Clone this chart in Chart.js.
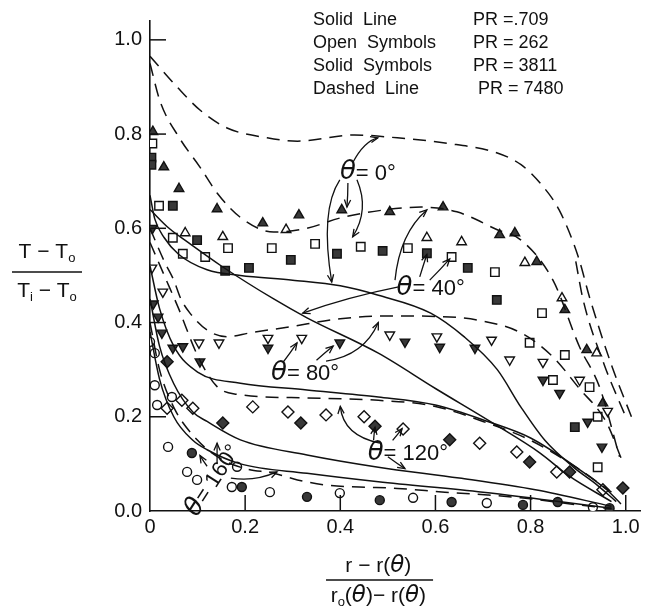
<!DOCTYPE html>
<html>
<head>
<meta charset="utf-8">
<script src="https://cdn.jsdelivr.net/npm/chart.js@4.4.0/dist/chart.umd.min.js"></script>
<style>
html, body { margin: 0; padding: 0; background: #fff; }
</style>
</head>
<body>
<canvas id="tempChart" width="656" height="609"></canvas>
<script>
// x = (r - r(θ)) / (ro(θ) - r(θ)),  y = (T - To) / (Ti - To)
const xTicks = [0, 0.2, 0.4, 0.6, 0.8, 1.0];
const xTickLabels = ['0', '0.2', '0.4', '0.6', '0.8', '1.0'];
const yTicks = [0, 0.2, 0.4, 0.6, 0.8, 1.0];
const yTickLabels = ['0.0', '0.2', '0.4', '0.6', '0.8', '1.0'];

// solid lines, PR = .709
const solidA = [[0,0.67],[0.01,0.62],[0.03,0.58],[0.06,0.545],[0.12,0.512],[0.19,0.5],[0.3,0.49],[0.4,0.478],[0.48,0.458],[0.59,0.42],[0.66,0.37],[0.73,0.3],[0.78,0.22],[0.83,0.15],[0.89,0.093],[0.94,0.055],[0.98,0.02]];
const solidB = [[0,0.64],[0.04,0.6],[0.08,0.57],[0.15,0.52],[0.26,0.45],[0.33,0.41],[0.48,0.335],[0.6,0.26],[0.72,0.187],[0.82,0.123],[0.88,0.075],[0.97,0.02]];
const solidC = [[0,0.52],[0.02,0.43],[0.05,0.35],[0.1,0.295],[0.19,0.271],[0.33,0.257],[0.48,0.242],[0.6,0.225],[0.71,0.19],[0.8,0.155],[0.9,0.09],[0.96,0.045],[0.99,0.015]];
const solidD = [[0,0.45],[0.02,0.35],[0.05,0.27],[0.09,0.21],[0.12,0.19],[0.19,0.151],[0.33,0.119],[0.48,0.093],[0.65,0.07],[0.81,0.045],[0.97,0.01]];
const solidE = [[0,0.38],[0.02,0.28],[0.05,0.2],[0.09,0.15],[0.12,0.13],[0.19,0.1],[0.33,0.08],[0.48,0.062],[0.7,0.04],[0.97,0.006]];

// dashed lines, PR = 7480
const dashA = [[0,0.965],[0.057,0.9],[0.105,0.851],[0.162,0.813],[0.246,0.792],[0.31,0.785],[0.43,0.798],[0.52,0.792],[0.62,0.781],[0.73,0.76],[0.78,0.735],[0.82,0.696],[0.86,0.639],[0.9,0.54],[0.925,0.45],[0.97,0.31],[1.012,0.2]];
const dashA2 = [[0.895,0.53],[0.91,0.45],[0.955,0.31],[1.0,0.2]];
const dashB = [[0,0.95],[0.021,0.87],[0.063,0.79],[0.105,0.73],[0.141,0.675],[0.189,0.624],[0.26,0.592],[0.33,0.6],[0.4,0.622],[0.5,0.64],[0.57,0.645],[0.645,0.635],[0.73,0.597],[0.78,0.575],[0.847,0.49],[0.903,0.348],[0.945,0.263],[0.987,0.115]];
const dashC = [[0,0.6],[0.03,0.53],[0.05,0.49],[0.065,0.45],[0.084,0.42],[0.12,0.384],[0.162,0.37],[0.21,0.378],[0.294,0.391],[0.4,0.408],[0.5,0.414],[0.6,0.413],[0.69,0.405],[0.78,0.378],[0.847,0.327],[0.9,0.263],[0.96,0.187],[0.99,0.113]];
const dashD = [[0,0.57],[0.03,0.5],[0.06,0.43],[0.1,0.33],[0.14,0.265],[0.18,0.248],[0.33,0.24],[0.48,0.235],[0.6,0.222],[0.7,0.19],[0.8,0.15],[0.9,0.09],[0.97,0.04]];
const dashE = [[0,0.4],[0.02,0.3],[0.05,0.22],[0.1,0.15],[0.15,0.11],[0.2,0.09],[0.26,0.08],[0.31,0.066],[0.37,0.055],[0.44,0.051],[0.52,0.048],[0.62,0.04],[0.71,0.034],[0.78,0.028],[0.9,0.013],[0.97,0.005]];

// open symbols PR = 262, solid symbols PR = 3811
const openTri = [[0.074,0.59],[0.153,0.582],[0.286,0.597],[0.582,0.58],[0.655,0.571],[0.788,0.527],[0.866,0.452],[0.939,0.335]];
const solidTri = [[0.006,0.805],[0.029,0.73],[0.061,0.684],[0.141,0.641],[0.237,0.611],[0.313,0.628],[0.403,0.639],[0.504,0.635],[0.616,0.645],[0.735,0.586],[0.767,0.59],[0.813,0.529],[0.872,0.427],[0.918,0.342],[0.952,0.229]];
const openSq = [[0.005,0.78],[0.019,0.648],[0.048,0.58],[0.069,0.546],[0.116,0.539],[0.164,0.558],[0.256,0.558],[0.347,0.567],[0.443,0.561],[0.542,0.558],[0.634,0.539],[0.725,0.507],[0.824,0.42],[0.798,0.357],[0.872,0.331],[0.847,0.278],[0.924,0.263],[0.941,0.2],[0.941,0.093]];
const solidSq = [[0.003,0.75],[0.003,0.735],[0.048,0.648],[0.099,0.575],[0.158,0.51],[0.208,0.516],[0.296,0.533],[0.393,0.546],[0.489,0.552],[0.582,0.547],[0.668,0.516],[0.729,0.448],[0.893,0.178]];
const openDownTri = [[0.004,0.516],[0.027,0.465],[0.103,0.357],[0.145,0.357],[0.248,0.367],[0.319,0.367],[0.504,0.374],[0.603,0.37],[0.718,0.363],[0.756,0.321],[0.826,0.316],[0.903,0.278],[0.962,0.212]];
const solidDownTri = [[0.005,0.6],[0.007,0.44],[0.017,0.412],[0.025,0.378],[0.048,0.346],[0.069,0.349],[0.105,0.317],[0.248,0.346],[0.399,0.357],[0.536,0.359],[0.609,0.348],[0.683,0.346],[0.826,0.278],[0.861,0.25],[0.92,0.189],[0.95,0.136]];
const openDiam = [[0.036,0.218],[0.067,0.235],[0.09,0.218],[0.216,0.221],[0.29,0.21],[0.37,0.204],[0.45,0.2],[0.532,0.174],[0.693,0.144],[0.771,0.125],[0.855,0.083],[0.952,0.045]];
const solidDiam = [[0.036,0.317],[0.153,0.187],[0.317,0.187],[0.473,0.18],[0.63,0.151],[0.798,0.104],[0.882,0.083],[0.994,0.049]];
const openCirc = [[0,0.359],[0.01,0.335],[0.01,0.267],[0.015,0.225],[0.046,0.242],[0.038,0.136],[0.078,0.083],[0.099,0.066],[0.183,0.094],[0.172,0.051],[0.252,0.04],[0.399,0.038],[0.553,0.028],[0.708,0.017],[0.931,0.008]];
const solidCirc = [[0.088,0.123],[0.193,0.051],[0.33,0.03],[0.483,0.023],[0.634,0.019],[0.784,0.013],[0.857,0.019],[0.966,0.006]];

// θ labels and arrows (data units): [x, y, text, rotation]
const thetaLabels = [[0.458,0.718,'0°',0],[0.59,0.473,'40°',0],[0.326,0.293,'80°',0],[0.542,0.123,'120°',0],[0.132,0.065,'160°',-1.0]];
// [x0, y0, cx, cy, x1, y1]
const arrows = [
  [0.426,0.739,0.45,0.785,0.479,0.792],
  [0.416,0.696,0.416,0.67,0.414,0.645],
  [0.399,0.703,0.357,0.639,0.382,0.486],
  [0.435,0.703,0.462,0.639,0.426,0.582],
  [0.515,0.49,0.525,0.59,0.582,0.639],
  [0.567,0.497,0.574,0.52,0.582,0.545],
  [0.588,0.49,0.61,0.512,0.63,0.535],
  [0.525,0.476,0.42,0.455,0.321,0.42],
  [0.28,0.316,0.295,0.336,0.309,0.357],
  [0.35,0.32,0.367,0.335,0.385,0.35],
  [0.37,0.318,0.45,0.33,0.48,0.4],
  [0.483,0.144,0.406,0.16,0.4,0.222],
  [0.47,0.15,0.471,0.165,0.473,0.178],
  [0.51,0.15,0.52,0.162,0.53,0.175],
  [0.5,0.115,0.52,0.1,0.536,0.09],
  [0.141,0.1,0.141,0.122,0.141,0.144],
  [0.12,0.095,0.112,0.106,0.105,0.118],
  [0.17,0.07,0.22,0.062,0.267,0.083]
];

const pts = a => a.map(p => ({x: p[0], y: p[1]}));

function lineSet(data, dashed) {
  return {
    data: pts(data), showLine: true, pointRadius: 0, borderColor: '#111',
    borderWidth: 1.5, borderDash: dashed ? [13, 8] : [], fill: false,
    cubicInterpolationMode: 'monotone'
  };
}
function markSet(data, style, solid, rot, r) {
  return {
    data: pts(data), showLine: false, pointStyle: style, rotation: rot || 0,
    pointRadius: r, pointBorderWidth: 1.4, pointBorderColor: '#111',
    pointBackgroundColor: solid ? '#383838' : '#fff'
  };
}

const drawExtras = {
  id: 'drawExtras',
  afterDraw(chart) {
    const c = chart.ctx, xs = chart.scales.x, ys = chart.scales.y;
    const X = v => xs.getPixelForValue(v), Y = v => ys.getPixelForValue(v);
    c.save();
    c.strokeStyle = '#111'; c.fillStyle = '#111'; c.lineWidth = 1.5;
    // inward ticks
    xTicks.slice(1).forEach(v => { c.beginPath(); c.moveTo(X(v), Y(0)); c.lineTo(X(v), Y(0) - 16); c.stroke(); });
    yTicks.slice(1).forEach(v => { c.beginPath(); c.moveTo(X(0), Y(v)); c.lineTo(X(0) + 16, Y(v)); c.stroke(); });

    // arrows
    c.lineWidth = 1.3;
    arrows.forEach(a => {
      const x0 = X(a[0]), y0 = Y(a[1]), cx = X(a[2]), cy = Y(a[3]), x1 = X(a[4]), y1 = Y(a[5]);
      c.beginPath(); c.moveTo(x0, y0); c.quadraticCurveTo(cx, cy, x1, y1); c.stroke();
      const ang = Math.atan2(y1 - cy, x1 - cx);
      c.beginPath();
      c.moveTo(x1 - 8 * Math.cos(ang - 0.4), y1 - 8 * Math.sin(ang - 0.4));
      c.lineTo(x1, y1);
      c.lineTo(x1 - 8 * Math.cos(ang + 0.4), y1 - 8 * Math.sin(ang + 0.4));
      c.stroke();
    });

    // θ labels
    c.textBaseline = 'middle';
    thetaLabels.forEach(t => {
      c.save();
      c.translate(X(t[0]), Y(t[1]));
      c.rotate(t[3]);
      c.font = '22px "Liberation Sans"';
      const rest = '= ' + t[2];
      const w2 = c.measureText(rest).width;
      c.font = 'italic 26px "DejaVu Sans"';
      const w1 = c.measureText('θ').width;
      const x0 = -(w1 + w2) / 2;
      c.textAlign = 'left';
      c.fillText('θ', x0, 0);
      c.font = '22px "Liberation Sans"';
      c.fillText(rest, x0 + w1, 1);
      c.restore();
    });

    // legend text
    c.font = '18px "Liberation Sans"';
    c.textAlign = 'left';
    const leg = [['Solid  Line', 'PR =.709'], ['Open  Symbols', 'PR = 262'], ['Solid  Symbols', 'PR = 3811'], ['Dashed  Line', ' PR = 7480']];
    leg.forEach((l, i) => { c.fillText(l[0], 313, 20 + i * 23); c.fillText(l[1], 473, 20 + i * 23); });

    // axis titles (fractions)
    function seq(parts, cx, cy) {
      let w = 0;
      parts.forEach(p => { c.font = p[1]; w += c.measureText(p[0]).width; });
      let x = cx - w / 2;
      parts.forEach(p => { c.font = p[1]; c.fillText(p[0], x, cy + (p[2] || 0)); x += c.measureText(p[0]).width; });
    }
    const F = '21px "Liberation Sans"', S = '13px "Liberation Sans"', T = 'italic 23px "DejaVu Sans"';
    seq([['T − T', F], ['o', S, 6]], 47, 252);
    c.lineWidth = 1.5;
    c.beginPath(); c.moveTo(12, 272); c.lineTo(82, 272); c.stroke();
    seq([['T', F], ['i', S, 6], [' − T', F], ['o', S, 6]], 47, 291);
    seq([['r − r(', F], ['θ', T], [')', F]], X(0.48), 566);
    c.beginPath(); c.moveTo(X(0.37), 580); c.lineTo(X(0.595), 580); c.stroke();
    seq([['r', F], ['o', S, 6], ['(', F], ['θ', T], [')− r(', F], ['θ', T], [')', F]], X(0.48), 596);
    c.restore();
  }
};

const ctx = document.getElementById('tempChart').getContext('2d');
const tempChart = new Chart(ctx, {
  type: 'scatter',
  data: {
    datasets: [
      lineSet(solidA, false), lineSet(solidB, false), lineSet(solidC, false), lineSet(solidD, false), lineSet(solidE, false),
      lineSet(dashA, true), lineSet(dashA2, true), lineSet(dashB, true), lineSet(dashC, true), lineSet(dashD, true), lineSet(dashE, true),
      markSet(openTri, 'triangle', false, 0, 5.5), markSet(solidTri, 'triangle', true, 0, 5.5),
      markSet(openSq, 'rect', false, 0, 6), markSet(solidSq, 'rect', true, 0, 6),
      markSet(openDownTri, 'triangle', false, 180, 5.5), markSet(solidDownTri, 'triangle', true, 180, 5.5),
      markSet(openDiam, 'rectRot', false, 0, 6), markSet(solidDiam, 'rectRot', true, 0, 6),
      markSet(openCirc, 'circle', false, 0, 4.5), markSet(solidCirc, 'circle', true, 0, 4.5)
    ]
  },
  options: {
    responsive: false,
    animation: false,
    devicePixelRatio: 1,
    layout: { padding: { top: 21, right: 16, left: 0, bottom: 0 } },
    plugins: { legend: { display: false }, tooltip: { enabled: false } },
    scales: {
      x: {
        type: 'linear', min: 0, max: 1.03,
        afterBuildTicks: s => { s.ticks = xTicks.map(v => ({ value: v })); },
        afterFit: s => { s.height = 98; },
        ticks: { callback: (v, i) => xTickLabels[i], font: { family: 'Liberation Sans', size: 20 }, color: '#111', padding: 4, maxRotation: 0 },
        grid: { display: false, drawTicks: false },
        border: { display: true, color: '#111', width: 1.6 }
      },
      y: {
        type: 'linear', min: 0, max: 1.04,
        afterBuildTicks: s => { s.ticks = yTicks.map(v => ({ value: v })); },
        afterFit: s => { s.width = 150; },
        ticks: { callback: (v, i) => yTickLabels[i], font: { family: 'Liberation Sans', size: 20 }, color: '#111', padding: 8 },
        grid: { display: false, drawTicks: false },
        border: { display: true, color: '#111', width: 1.6 }
      }
    }
  },
  plugins: [drawExtras]
});
</script>
</body>
</html>
